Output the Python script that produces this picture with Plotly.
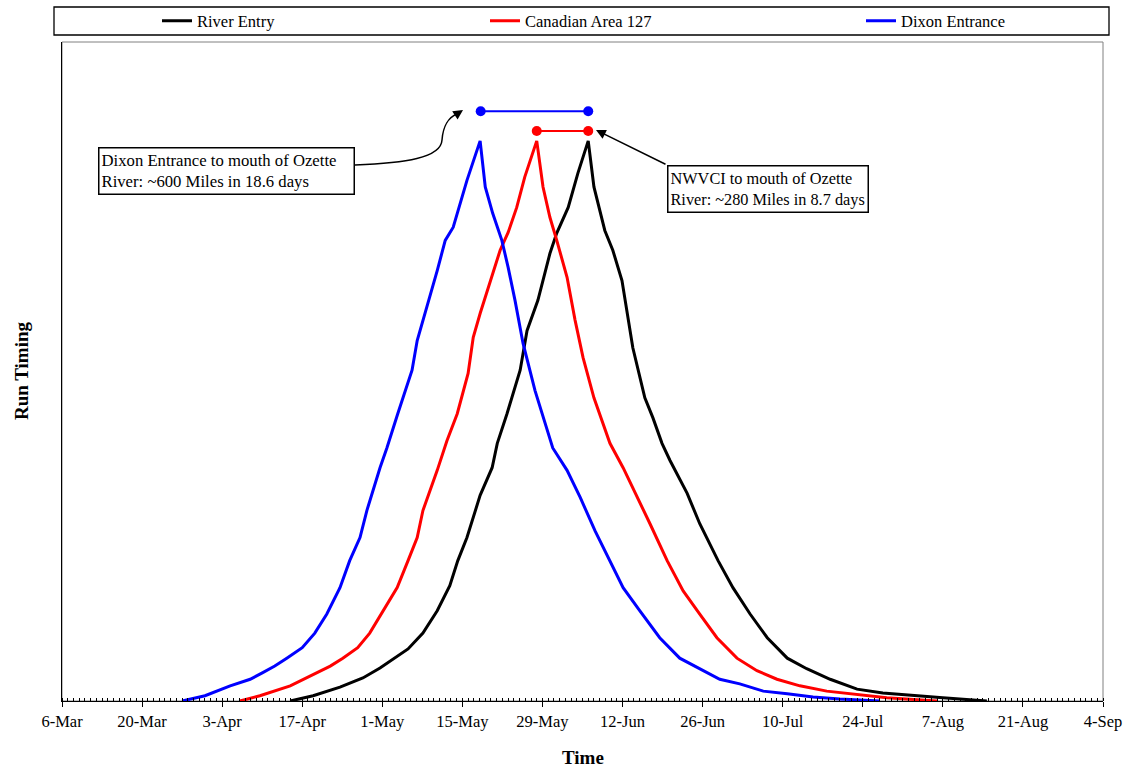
import pandas as pd
import plotly.graph_objects as go

# ---------------- data ----------------
# x values are days after 6-Mar, y values are relative run timing
start_date = "2005-03-06"

river_days = [39.9, 43.9, 48.6, 52.6, 55.6, 58.2, 60.5, 63.1, 65.6, 67.8, 69.2, 70.8, 71.9, 73.1, 75.2, 76.1,
              77.8, 80.1, 81.3, 83.2, 85.3, 86.5, 88.5, 90.2, 92.0, 93.0, 94.9, 96.3, 97.9, 99.8, 101.9, 103.3,
              104.9, 106.3, 109.3, 111.5, 114.7, 117.3, 120.3, 123.3, 126.8, 130.2, 134.3, 139.0, 143.5, 148.8,
              154.0, 161.7]
river_vals = [0, .008, .021, .035, .050, .065, .079, .103, .137, .175, .213, .248, .278, .312, .354, .391,
              .436, .502, .562, .608, .679, .710, .749, .801, .850, .780, .714, .684, .638, .536, .460, .430,
              .391, .365, .315, .269, .213, .172, .132, .096, .065, .049, .033, .018, .012, .008, .005, 0]

canada_days = [31.1, 34.6, 39.9, 44.6, 46.9, 49.1, 51.7, 53.8, 56.1, 58.6, 60.5, 62.1, 63.1, 65.6, 67.3, 69.1,
               71.0, 71.9, 73.1, 75.3, 76.6, 78.0, 79.5, 80.9, 83.0, 84.1, 85.3, 86.5, 88.3, 89.7, 91.1, 93.0,
               95.8, 98.1, 99.8, 102.8, 105.8, 108.6, 111.5, 114.5, 118.0, 121.5, 125.0, 129.0, 133.7, 138.3,
               144.2, 153.0]
canada_vals = [0, .008, .023, .043, .053, .065, .081, .103, .137, .172, .213, .248, .289, .350, .395, .436,
               .497, .552, .588, .649, .684, .711, .749, .795, .850, .780, .734, .699, .643, .578, .521, .460,
               .391, .354, .324, .269, .213, .167, .132, .096, .065, .046, .033, .023, .015, .011, .005, 0]

dixon_days = [21.0, 25.0, 29.4, 32.9, 35.1, 37.2, 39.3, 42.0, 44.2, 46.3, 48.6, 50.3, 52.1, 53.3, 55.6, 56.8,
              58.7, 61.2, 62.1, 63.8, 65.6, 67.0, 68.4, 70.8, 73.1, 74.0, 75.3, 76.9, 78.0, 79.2, 80.6, 82.7,
              84.1, 85.8, 88.3, 90.6, 93.2, 95.8, 98.1, 101.0, 104.5, 108.0, 111.5, 115.0, 118.5, 122.6, 126.8,
              131.3, 136.0, 143.0]
dixon_vals = [0, .008, .023, .033, .043, .053, .065, .081, .103, .132, .172, .213, .248, .289, .354, .384,
              .436, .502, .547, .597, .653, .699, .719, .790, .850, .780, .740, .699, .658, .608, .543, .471,
              .430, .384, .350, .309, .258, .213, .172, .137, .096, .065, .049, .033, .026, .015, .011, .006,
              .003, 0]

dixon_span_days = [73.2, 92.0]
dixon_span_vals = [0.895, 0.895]
canada_span_days = [83.0, 92.0]
canada_span_vals = [0.865, 0.865]

tick_dates = ["2005-03-06","2005-03-20","2005-04-03","2005-04-17","2005-05-01","2005-05-15","2005-05-29",
              "2005-06-12","2005-06-26","2005-07-10","2005-07-24","2005-08-07","2005-08-21","2005-09-04"]
tick_labels = ["6-Mar","20-Mar","3-Apr","17-Apr","1-May","15-May","29-May",
               "12-Jun","26-Jun","10-Jul","24-Jul","7-Aug","21-Aug","4-Sep"]

series_names = ["River Entry", "Canadian Area 127", "Dixon Entrance"]
note_dixon = "Dixon Entrance to mouth of Ozette<br>River: ~600 Miles in 18.6 days"
note_nwvci = "NWVCI to mouth of Ozette<br>River: ~280 Miles in 8.7 days"


def to_dates(days):
    return pd.Timestamp(start_date) + pd.to_timedelta(days, unit="D")


# ---------------- layout helpers (pixel -> paper) ----------------
W, H = 1127, 771
L, R, T, B = 62, 1103, 42, 701
def px(x): return (x - L) / (R - L)
def py(y): return (B - y) / (B - T)

FONT = "Liberation Serif"

fig = go.Figure()
fig.add_trace(go.Scatter(x=to_dates(river_days), y=river_vals, mode="lines", name=series_names[0],
                         line=dict(color="black", width=3), legend="legend"))
fig.add_trace(go.Scatter(x=to_dates(canada_days), y=canada_vals, mode="lines", name=series_names[1],
                         line=dict(color="#ff0000", width=3), legend="legend2"))
fig.add_trace(go.Scatter(x=to_dates(dixon_days), y=dixon_vals, mode="lines", name=series_names[2],
                         line=dict(color="#0000ff", width=3), legend="legend3"))
fig.add_trace(go.Scatter(x=to_dates(dixon_span_days), y=dixon_span_vals, mode="lines+markers", showlegend=False,
                         line=dict(color="#0000ff", width=2), marker=dict(color="#0000ff", size=10)))
fig.add_trace(go.Scatter(x=to_dates(canada_span_days), y=canada_span_vals, mode="lines+markers", showlegend=False,
                         line=dict(color="#ff0000", width=2), marker=dict(color="#ff0000", size=10)))

leg_common = dict(orientation="h", yanchor="middle", xanchor="left", bgcolor="rgba(0,0,0,0)",
                  font=dict(family=FONT, size=16.5, color="black"), itemwidth=30)

shapes = [
    # plot-area frame (grey)
    dict(type="rect", xref="paper", yref="paper", x0=0, x1=1, y0=0, y1=1,
         line=dict(color="#808080", width=1), layer="below"),
    # legend frame
    dict(type="rect", xref="paper", yref="paper", x0=px(54), x1=px(1109), y0=py(35), y1=py(7),
         line=dict(color="black", width=1.3)),
    # curved connector for Dixon note
    dict(type="path", xref="paper", yref="paper",
         path="M {},{} C {},{} {},{} {},{} C {},{} {},{} {},{}".format(
             px(355), py(165), px(405), py(163), px(441), py(158), px(442), py(140),
             px(443), py(126), px(449), py(117), px(457), py(114)),
         line=dict(color="black", width=1.5)),
]

annotations = [
    dict(text=note_dixon, xref="paper", yref="paper", x=px(98), y=py(147), xanchor="left", yanchor="top",
         showarrow=False, align="left", valign="middle", width=250, height=41, bordercolor="black",
         borderwidth=1.5, borderpad=2, bgcolor="white", font=dict(family=FONT, size=16.7, color="black")),
    dict(text=note_nwvci, xref="paper", yref="paper", x=px(667), y=py(165), xanchor="left", yanchor="top",
         showarrow=False, align="left", valign="middle", width=195, height=41, bordercolor="black",
         borderwidth=1.5, borderpad=2, bgcolor="white", font=dict(family=FONT, size=16.3, color="black")),
    # arrow heads
    dict(text="", xref="paper", yref="paper", x=px(463), y=py(110), ax=-9, ay=6, showarrow=True,
         arrowhead=2, arrowsize=1.3, arrowwidth=1.5, arrowcolor="black"),
    dict(text="", xref="paper", yref="paper", x=px(596), y=py(130), ax=71, ay=35, showarrow=True,
         arrowhead=2, arrowsize=1.3, arrowwidth=1.5, arrowcolor="black"),
    # axis titles
    dict(text="<b>Time</b>", xref="paper", yref="paper", x=0.5, y=py(758), xanchor="center", yanchor="middle",
         showarrow=False, font=dict(family=FONT, size=19, color="black")),
    dict(text="<b>Run Timing</b>", xref="paper", yref="paper", x=px(21), y=py(371), xanchor="center",
         yanchor="middle", textangle=-90, showarrow=False, font=dict(family=FONT, size=19, color="black")),
]

fig.update_layout(
    width=W, height=H,
    margin=dict(l=L, r=W - R, t=T, b=H - B, autoexpand=False),
    paper_bgcolor="white", plot_bgcolor="white",
    font=dict(family=FONT, color="black"),
    legend=dict(x=px(157), y=py(21), **leg_common),
    legend2=dict(x=px(485), y=py(21), **leg_common),
    legend3=dict(x=px(861), y=py(21), **leg_common),
    xaxis=dict(type="date", range=["2005-03-06", "2005-09-04"], tickmode="array", automargin=False,
               tickvals=tick_dates, ticktext=tick_labels, ticks="outside", ticklen=5, tickwidth=1,
               tickcolor="black", showline=True, linecolor="black", linewidth=1, showgrid=False,
               zeroline=False, tickfont=dict(family=FONT, size=16.5, color="black"),
               minor=dict(dtick=86400000, tick0="2005-03-06", ticks="inside", ticklen=3,
                          tickcolor="black", tickwidth=1, showgrid=False)),
    xaxis2=dict(type="date", range=["2005-03-06", "2005-09-04"], overlaying="x", anchor="y", side="bottom",
                tickmode="array", tickvals=tick_dates, ticks="inside", ticklen=3, tickcolor="black",
                showticklabels=False, showline=False, showgrid=False, zeroline=False),
    yaxis=dict(range=[0, 1], showticklabels=False, ticks="", showgrid=False, zeroline=False,
               showline=True, linecolor="black", linewidth=1, automargin=False),
    shapes=shapes,
    annotations=annotations,
)

fig.write_html("out.html", config={"displayModeBar": False},
               post_script="document.body.style.margin='0';document.body.style.padding='0';"
                           "document.body.style.overflow='hidden';")
